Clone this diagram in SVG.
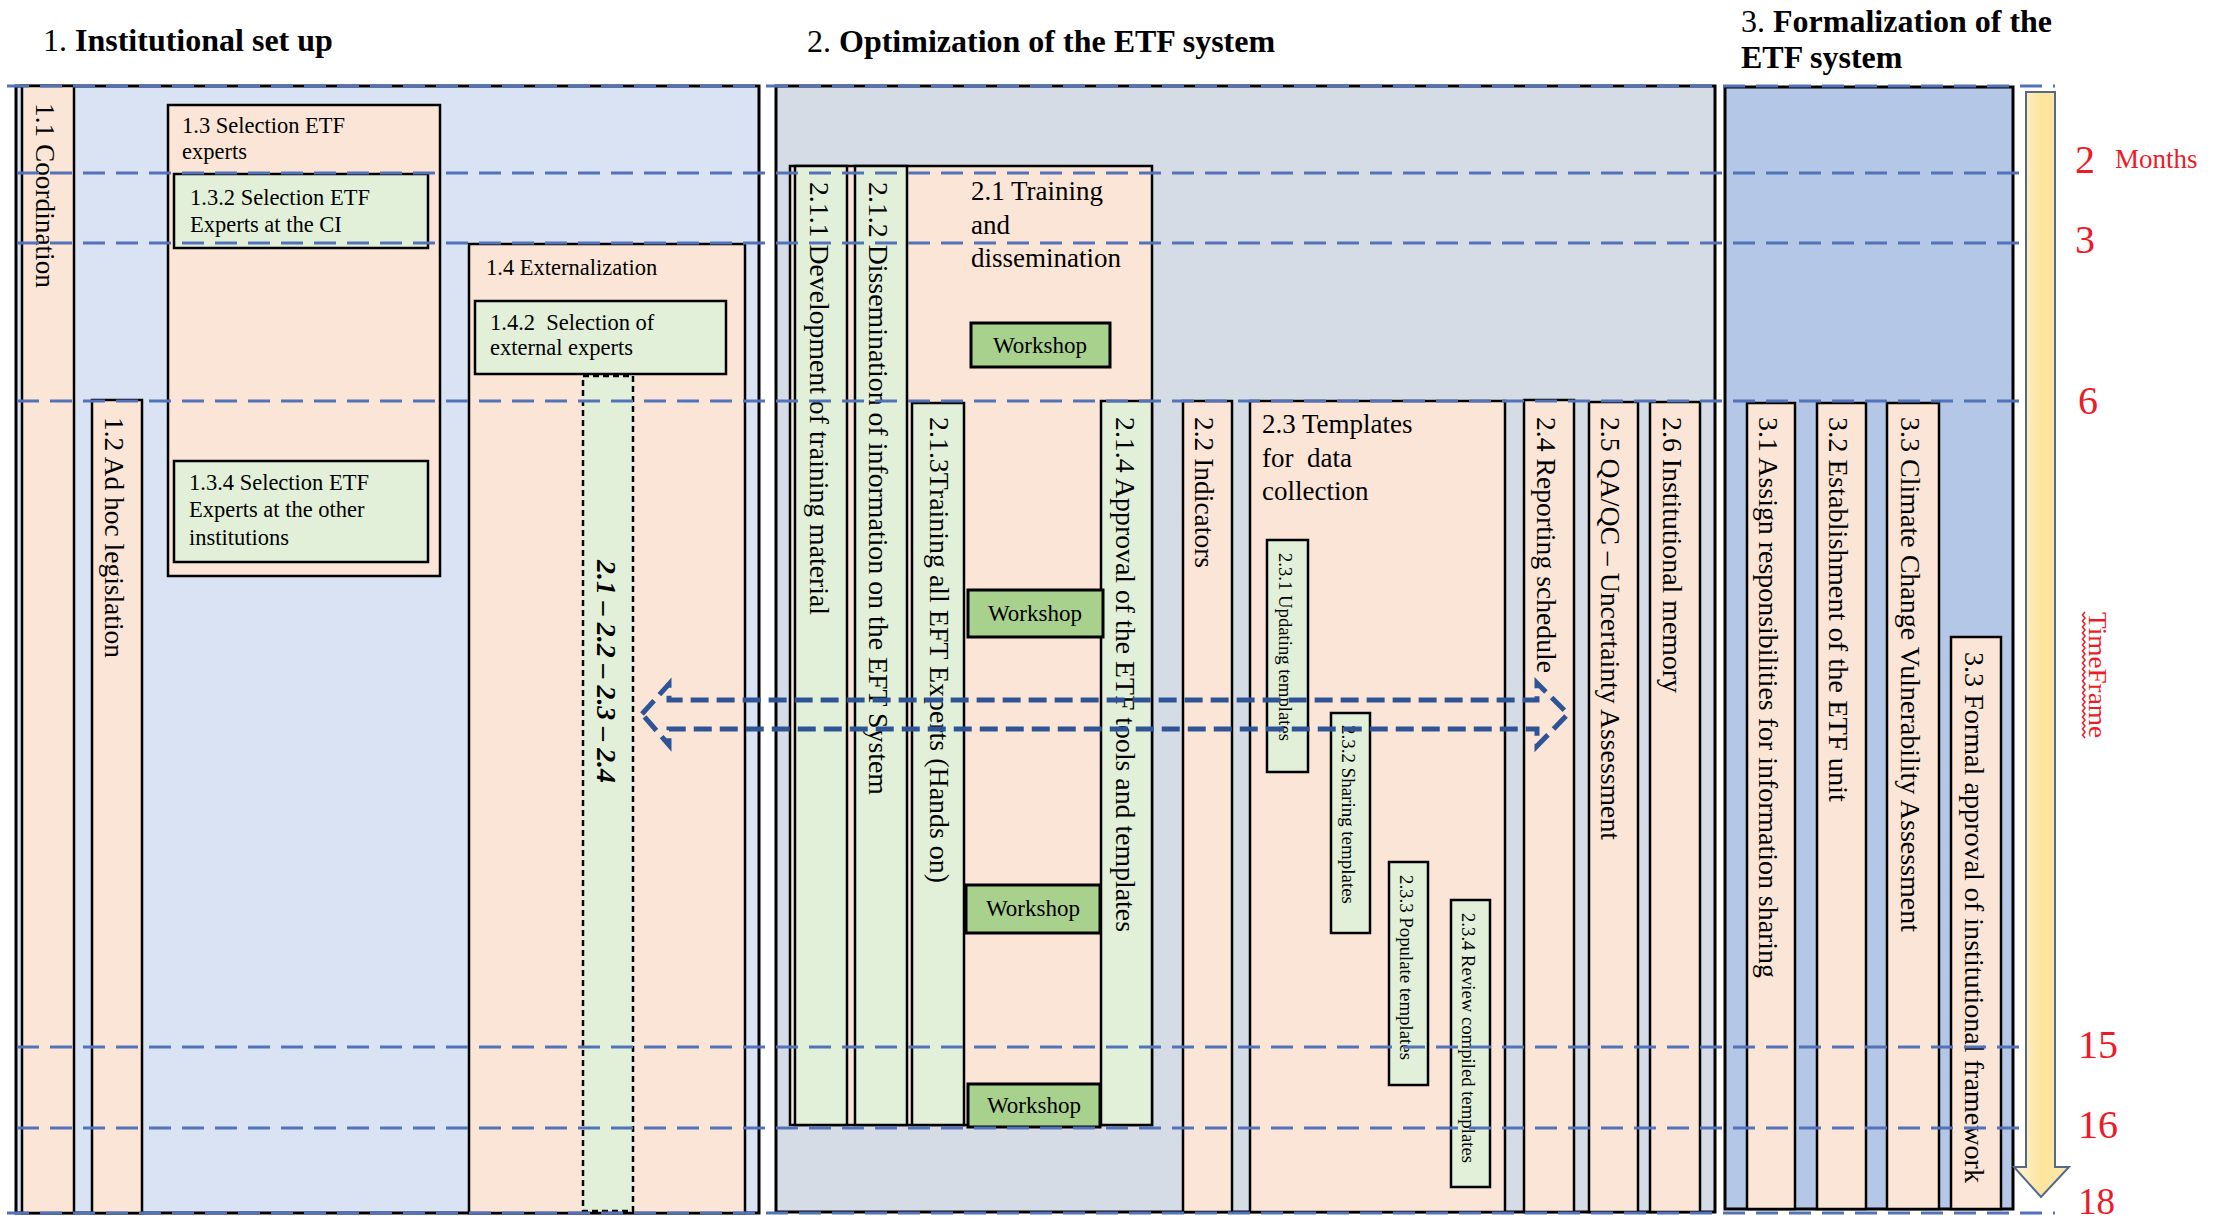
<svg xmlns="http://www.w3.org/2000/svg" width="2226" height="1224" viewBox="0 0 2226 1224">
<defs>
<style>
.t{font-family:"Liberation Serif","Times New Roman",serif;fill:#000}
.v{font-size:28px;dominant-baseline:central}
.s{font-size:18.5px;dominant-baseline:central}
.h{font-size:22.5px}
.h27{font-size:27px}
.ttl{font-size:32px}
.ws-t{font-size:23px;text-anchor:middle}
.sec{stroke:#000;stroke-width:3}
.peach{fill:#fbe5d6;stroke:#000;stroke-width:2.5}
.green{fill:#e2f0d9;stroke:#000;stroke-width:2.5}
.ws{fill:#a9d18e;stroke:#000;stroke-width:3}
.grid{stroke:#5273b9;stroke-width:3;stroke-dasharray:22 11;fill:none}
.red{fill:#ee1a28;font-family:"Liberation Serif","Times New Roman",serif}
</style>
<linearGradient id="yel" x1="0" y1="0" x2="1" y2="0">
<stop offset="0" stop-color="#fff6da"/>
<stop offset="0.5" stop-color="#fde49c"/>
<stop offset="1" stop-color="#fde9ad"/>
</linearGradient>
</defs>
<rect width="2226" height="1224" fill="#fff"/>

<!-- Titles -->
<g id="title1"><text class="t ttl" x="43" y="51">1. <tspan font-weight="bold">Institutional set up</tspan></text></g>
<g id="title2"><text class="t ttl" x="807" y="52">2. <tspan font-weight="bold">Optimization of the ETF system</tspan></text></g>
<g id="title3"><text class="t ttl" x="1741" y="32">3. <tspan font-weight="bold">Formalization of the</tspan></text><text class="t ttl" font-weight="bold" x="1741" y="68">ETF system</text></g>

<!-- Section 1 -->
<g id="sec1"><rect class="sec" x="16" y="86" width="743" height="1127" fill="#dae3f3"/></g>
<g id="n1-1"><rect class="peach" x="22" y="86" width="52" height="1127"/>
<text class="t v" transform="translate(45,103) rotate(90)" textLength="185" lengthAdjust="spacingAndGlyphs">1.1 Coordination</text></g>
<g id="n1-2"><rect class="peach" x="92" y="400" width="50" height="813"/>
<text class="t v" transform="translate(114,417) rotate(90)" textLength="241" lengthAdjust="spacingAndGlyphs">1.2 Ad hoc legislation</text></g>
<g id="n1-3"><rect class="peach" x="168" y="105" width="272" height="471"/>
<text class="t h" x="182" y="133">1.3 Selection ETF</text><text class="t h" x="182" y="159">experts</text></g>
<g id="n1-3-2"><rect class="green" x="174" y="174" width="254" height="74"/>
<text class="t h" x="190" y="205">1.3.2 Selection ETF</text><text class="t h" x="190" y="232">Experts at the CI</text></g>
<g id="n1-3-4"><rect class="green" x="174" y="461" width="254" height="101"/>
<text class="t h" x="189" y="490">1.3.4 Selection ETF</text><text class="t h" x="189" y="517">Experts at the other</text><text class="t h" x="189" y="545">institutions</text></g>
<g id="n1-4"><rect class="peach" x="469" y="244" width="276" height="969"/>
<text class="t h" x="486" y="275">1.4 Externalization</text></g>
<g id="n1-4-2"><rect class="green" x="475" y="301" width="251" height="73"/>
<text class="t h" x="490" y="330" xml:space="preserve">1.4.2  Selection of</text><text class="t h" x="490" y="355">external experts</text></g>
<g id="n-link"><rect x="583" y="376" width="50" height="835" fill="#e2f0d9" stroke="#000" stroke-width="2.5" stroke-dasharray="6 4"/>
<text class="t v" font-weight="bold" font-style="italic" transform="translate(606,560) rotate(90)" textLength="223" lengthAdjust="spacingAndGlyphs">2.1 – 2.2 – 2.3 – 2.4</text></g>

<!-- Section 2 -->
<g id="sec2"><rect class="sec" x="776" y="86" width="939" height="1126" fill="#d6dce5"/></g>
<g id="n2-1"><rect class="peach" x="790" y="166" width="362" height="959"/>
<text class="t h27" x="971" y="200">2.1 Training</text><text class="t h27" x="971" y="234">and</text><text class="t h27" x="971" y="267">dissemination</text></g>
<g id="n2-1-1"><rect class="green" x="795" y="166" width="52" height="959"/>
<text class="t v" transform="translate(819,182) rotate(90)" textLength="433" lengthAdjust="spacingAndGlyphs">2.1.1 Development of training material</text></g>
<g id="n2-1-2"><rect class="green" x="855" y="166" width="52" height="959"/>
<text class="t v" transform="translate(878,182) rotate(90)" textLength="613" lengthAdjust="spacingAndGlyphs">2.1.2 Dissemination of information on the EFT System</text></g>
<g id="n2-1-3"><rect class="green" x="912" y="403" width="52" height="722"/>
<text class="t v" transform="translate(939,417) rotate(90)" textLength="466" lengthAdjust="spacingAndGlyphs">2.1.3Training all EFT Experts (Hands on)</text></g>
<g id="n2-1-4"><rect class="green" x="1101" y="401" width="51" height="724"/>
<text class="t v" transform="translate(1125,417) rotate(90)" textLength="515" lengthAdjust="spacingAndGlyphs">2.1.4 Approval of the ETF tools and templates</text></g>
<g id="ws1"><rect class="ws" x="971" y="323" width="139" height="44"/><text class="t ws-t" x="1040" y="353">Workshop</text></g>
<g id="ws2"><rect class="ws" x="968" y="590" width="135" height="47"/><text class="t ws-t" x="1035" y="621">Workshop</text></g>
<g id="ws3"><rect class="ws" x="966" y="885" width="134" height="48"/><text class="t ws-t" x="1033" y="916">Workshop</text></g>
<g id="ws4"><rect class="ws" x="968" y="1084" width="132" height="43"/><text class="t ws-t" x="1034" y="1113">Workshop</text></g>
<g id="n2-2"><rect class="peach" x="1183" y="401" width="49" height="811"/>
<text class="t v" transform="translate(1204,417) rotate(90)" textLength="151" lengthAdjust="spacingAndGlyphs">2.2 Indicators</text></g>
<g id="n2-3"><rect class="peach" x="1250" y="401" width="255" height="811"/>
<text class="t h27" x="1262" y="433">2.3 Templates</text><text class="t h27" x="1262" y="467" xml:space="preserve">for  data</text><text class="t h27" x="1262" y="500">collection</text></g>
<g id="n2-3-1"><rect class="green" x="1267" y="540" width="41" height="232"/>
<text class="t s" transform="translate(1285,553) rotate(90)" textLength="188" lengthAdjust="spacingAndGlyphs">2.3.1 Updating templates</text></g>
<g id="n2-3-2"><rect class="green" x="1331" y="713" width="39" height="220"/>
<text class="t s" transform="translate(1348,725) rotate(90)" textLength="179" lengthAdjust="spacingAndGlyphs">2.3.2 Sharing templates</text></g>
<g id="n2-3-3"><rect class="green" x="1389" y="862" width="39" height="223"/>
<text class="t s" transform="translate(1406,875) rotate(90)" textLength="185" lengthAdjust="spacingAndGlyphs">2.3.3 Populate templates</text></g>
<g id="n2-3-4"><rect class="green" x="1451" y="900" width="39" height="287"/>
<text class="t s" transform="translate(1468,913) rotate(90)" textLength="250" lengthAdjust="spacingAndGlyphs">2.3.4 Review compiled templates</text></g>
<g id="n2-4"><rect class="peach" x="1524" y="400" width="50" height="812"/>
<text class="t v" transform="translate(1546,417) rotate(90)" textLength="256" lengthAdjust="spacingAndGlyphs">2.4 Reporting schedule</text></g>
<g id="n2-5"><rect class="peach" x="1589" y="402" width="49" height="810"/>
<text class="t v" transform="translate(1610,417) rotate(90)" textLength="423" lengthAdjust="spacingAndGlyphs">2.5 QA/QC – Uncertainty Assessment</text></g>
<g id="n2-6"><rect class="peach" x="1650" y="402" width="50" height="810"/>
<text class="t v" transform="translate(1672,417) rotate(90)" textLength="276" lengthAdjust="spacingAndGlyphs">2.6 Institutional memory</text></g>

<!-- Section 3 -->
<g id="sec3"><rect class="sec" x="1725" y="87" width="288" height="1122" fill="#b4c7e7"/></g>
<g id="n3-1"><rect class="peach" x="1747" y="403" width="48" height="806"/>
<text class="t v" transform="translate(1768,417) rotate(90)" textLength="561" lengthAdjust="spacingAndGlyphs">3.1 Assign responsibilities for information sharing</text></g>
<g id="n3-2"><rect class="peach" x="1817" y="403" width="49" height="806"/>
<text class="t v" transform="translate(1838,417) rotate(90)" textLength="385" lengthAdjust="spacingAndGlyphs">3.2 Establishment of the ETF unit</text></g>
<g id="n3-3"><rect class="peach" x="1887" y="403" width="52" height="806"/>
<text class="t v" transform="translate(1910,417) rotate(90)" textLength="515" lengthAdjust="spacingAndGlyphs">3.3 Climate Change Vulnerability Assessment</text></g>
<g id="n3-3b"><rect class="peach" x="1951" y="637" width="50" height="572"/>
<text class="t v" transform="translate(1974,652) rotate(90)" textLength="531" lengthAdjust="spacingAndGlyphs">3.3 Formal approval of institutional framework</text></g>

<!-- Month grid lines -->
<g id="months">
<line class="grid" x1="7" y1="86" x2="2055" y2="86"/>
<line class="grid" x1="17" y1="173" x2="2055" y2="173"/>
<line class="grid" x1="17" y1="243" x2="2055" y2="243"/>
<line class="grid" x1="17" y1="401" x2="2055" y2="401"/>
<line class="grid" x1="17" y1="1047" x2="2055" y2="1047"/>
<line class="grid" x1="17" y1="1128" x2="2055" y2="1128"/>
<line class="grid" x1="7" y1="1213" x2="2055" y2="1213"/>
</g>

<!-- Connectors -->
<g id="connectors">
<path d="M642 714 L669 684 L669 700 L1537 700 L1537 683 L1568 714 L1537 746 L1537 729 L669 729 L669 745 Z" fill="none" stroke="#2f5496" stroke-width="5" stroke-dasharray="18 8"/>
</g>

<!-- Timeline -->
<g id="timeline">
<path d="M2026 92 L2055 92 L2055 1167 L2069 1167 L2041 1197 L2014 1167 L2026 1167 Z" fill="url(#yel)" stroke="#55698c" stroke-width="2"/>
<text class="red" x="2075" y="173" font-size="40">2</text>
<text class="red" x="2115" y="168" font-size="27">Months</text>
<text class="red" x="2075" y="253" font-size="40">3</text>
<text class="red" x="2078" y="414" font-size="40">6</text>
<text class="red" x="2078" y="1058" font-size="40">15</text>
<text class="red" x="2078" y="1138" font-size="40">16</text>
<text class="red" x="2078" y="1214" font-size="37">18</text>
<text class="red" font-size="26" dominant-baseline="central" transform="translate(2097,612) rotate(90)" textLength="126" lengthAdjust="spacingAndGlyphs">TimeFrame</text>
<path d="M2085 612 l-2.5 3 l2.5 3 l-2.5 3 l2.5 3 l-2.5 3 l2.5 3 l-2.5 3 l2.5 3 l-2.5 3 l2.5 3 l-2.5 3 l2.5 3 l-2.5 3 l2.5 3 l-2.5 3 l2.5 3 l-2.5 3 l2.5 3 l-2.5 3 l2.5 3 l-2.5 3 l2.5 3 l-2.5 3 l2.5 3 l-2.5 3 l2.5 3 l-2.5 3 l2.5 3 l-2.5 3 l2.5 3 l-2.5 3 l2.5 3 l-2.5 3 l2.5 3 l-2.5 3 l2.5 3 l-2.5 3 l2.5 3 l-2.5 3 l2.5 3 l-2.5 3 l2.5 3" fill="none" stroke="#ee1a28" stroke-width="1.5"/>
</g>
</svg>
